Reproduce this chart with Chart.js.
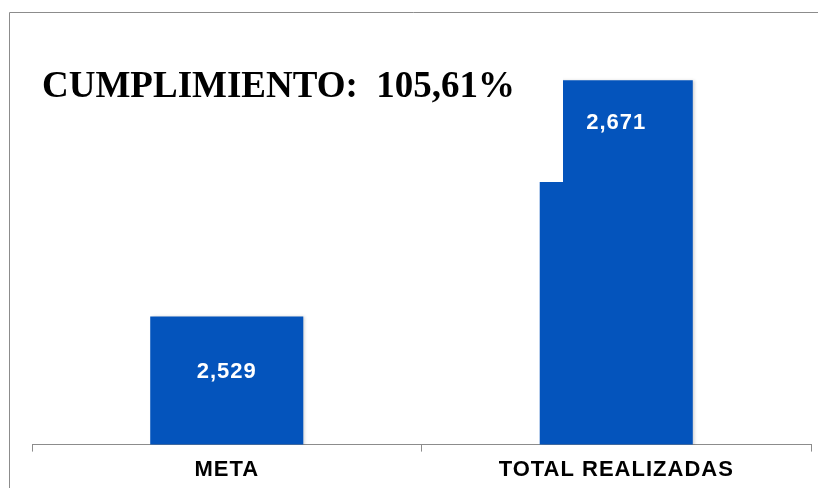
<!DOCTYPE html>
<html>
<head>
<meta charset="utf-8">
<script src="https://cdn.jsdelivr.net/npm/chart.js@4/dist/chart.umd.min.js"></script>
<style>
  html, body { margin: 0; padding: 0; background: #fff; }
  #wrap { width: 818px; height: 488px; position: relative; }
</style>
</head>
<body>
<div id="wrap"><canvas id="grafico" width="818" height="488"></canvas></div>
<script>
// datos
const categorias = ['META', 'TOTAL REALIZADAS'];
const valores = [2529, 2671];
const titulo = 'CUMPLIMIENTO:  105,61%';

const azul = 'rgb(4, 84, 188)';
const gris = '#8c8c8c';

// marco, recuadro del titulo y etiquetas
const extras = {
    id: 'extras',
    beforeDraw(chart) {
        const ctx = chart.ctx;
        ctx.save();
        ctx.strokeStyle = gris;
        ctx.lineWidth = 1;
        ctx.beginPath();
        ctx.moveTo(9.5, 488);
        ctx.lineTo(9.5, 12.5);
        ctx.lineTo(818, 12.5);
        ctx.stroke();
        ctx.restore();
        ctx.letterSpacing = '1px';
    },
    beforeDatasetsDraw(chart) {
        const ctx = chart.ctx;
        ctx.save();
        ctx.shadowColor = 'rgba(0,0,0,0.18)';
        ctx.shadowOffsetX = 2;
        ctx.shadowBlur = 3;
    },
    afterDatasetsDraw(chart) {
        const ctx = chart.ctx;
        ctx.restore();
        ctx.save();
        // recuadro blanco del titulo
        ctx.fillStyle = '#fff';
        ctx.fillRect(32, 40, 531, 142);
        ctx.letterSpacing = '0px';
        ctx.fillStyle = '#000';
        ctx.font = 'bold 37px "Liberation Serif", "Times New Roman", serif';
        ctx.textBaseline = 'alphabetic';
        ctx.textAlign = 'left';
        ctx.fillText(titulo, 42, 97);

        // valores dentro de las barras
        const bajada = [55, 43];
        const meta = chart.getDatasetMeta(0);
        ctx.letterSpacing = '1px';
        ctx.font = 'bold 22px "Liberation Sans", Arial, sans-serif';
        ctx.fillStyle = '#fff';
        ctx.textAlign = 'center';
        ctx.textBaseline = 'middle';
        meta.data.forEach((bar, i) => {
            ctx.fillText(valores[i].toLocaleString('en-US'), bar.x, bar.y + bajada[i]);
        });
        ctx.restore();
    },
    afterDraw(chart) {
        chart.ctx.letterSpacing = '0px';
    }
};

new Chart(document.getElementById('grafico'), {
    type: 'bar',
    data: {
        labels: categorias,
        datasets: [{
            data: valores,
            backgroundColor: azul,
            borderWidth: 0,
            barPercentage: 0.393,
            categoryPercentage: 1
        }]
    },
    options: {
        responsive: false,
        animation: false,
        layout: { padding: { left: 32, right: 7, top: 32, bottom: 0 } },
        plugins: {
            legend: { display: false },
            tooltip: { enabled: false }
        },
        scales: {
            x: {
                grid: { drawOnChartArea: false, tickLength: 7, color: gris, offset: true },
                border: { color: gris },
                ticks: {
                    padding: 5,
                    color: '#000',
                    font: { family: '"Liberation Sans", Arial, sans-serif', size: 22, weight: 'bold' }
                }
            },
            y: {
                display: false,
                min: 2452,
                max: 2700
            }
        }
    },
    plugins: [extras]
});
</script>
</body>
</html>
